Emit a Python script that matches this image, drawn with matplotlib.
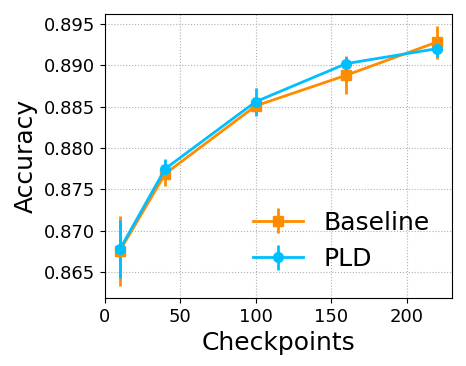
import matplotlib
matplotlib.use('Agg')
import matplotlib.pyplot as plt

checkpoints = [10, 40, 100, 160, 220]
baseline = [0.8676, 0.8769, 0.8851, 0.8888, 0.8928]
baseline_err = [0.0042, 0.0015, 0.0008, 0.0023, 0.0020]
pld = [0.8678, 0.8775, 0.8856, 0.8902, 0.8920]
pld_err = [0.0035, 0.0012, 0.0017, 0.0008, 0.0010]

fig, ax = plt.subplots(figsize=(4.66, 3.66), dpi=100)
fig.subplots_adjust(left=0.225, right=0.97, top=0.962, bottom=0.186)

ax.errorbar(checkpoints, baseline, yerr=baseline_err, color='darkorange', marker='s',
            markersize=7, linewidth=2, elinewidth=2, label='Baseline')
ax.errorbar(checkpoints, pld, yerr=pld_err, color='deepskyblue', marker='o',
            markersize=7, linewidth=2, elinewidth=2, label='PLD')

ax.set_xlim(0, 230)
ax.set_ylim(0.8619, 0.8962)
ax.set_yticks([0.865, 0.870, 0.875, 0.880, 0.885, 0.890, 0.895])
ax.set_xticks([0, 50, 100, 150, 200])
ax.tick_params(labelsize=13)
ax.grid(True, linestyle=':', color='#b0b0b0')
ax.set_xlabel('Checkpoints', fontsize=18)
ax.set_ylabel('Accuracy', fontsize=18)
ax.legend(loc='lower right', bbox_to_anchor=(1.0, 0.015), fontsize=18, frameon=False)

fig.savefig('out.png', dpi=100)
